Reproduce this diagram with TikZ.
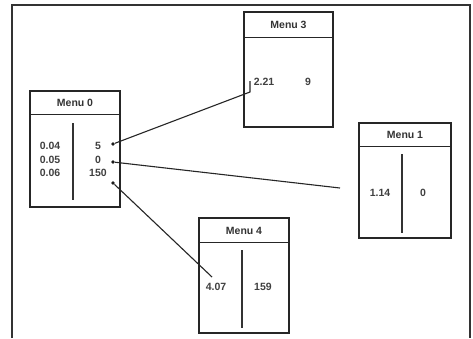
\documentclass[tikz,border=0pt]{standalone}
\usepackage{fontspec}
\setmainfont{Liberation Sans}
\usetikzlibrary{calc}
\begin{document}
\begin{tikzpicture}[x=1pt,y=-1pt,
  menubox/.style={draw=black!85, line width=1.4pt, rectangle, inner sep=0pt},
  sepline/.style={draw=black!85, line width=1.4pt},
  divline/.style={draw=black!80, line width=1.2pt},
  head/.style={font=\fontsize{10.5}{12}\selectfont\bfseries, text=black!80, inner sep=0pt},
  val/.style={font=\fontsize{10.5}{12}\selectfont\bfseries, text=black!75, inner sep=0pt},
  conn/.style={draw=black!85, line width=1.1pt},
  dot/.style={circle, fill=black!90, inner sep=0pt, minimum size=3.8pt}]
\useasboundingbox (0,0) rectangle (473,338);
\fill[white] (0,0) rectangle (473,338);
% outer frame
\draw[black!80, line width=2pt] (12,338) -- (12,5) -- (470,5) -- (470,338);
% Menu 0
\node[menubox, minimum width=90pt, minimum height=116pt] (m0) at (75,149) {};
\draw[sepline] ($(m0.north west)+(0,24)$) -- ($(m0.north east)+(0,24)$);
\node[head] (m0h) at (75,103) {Menu 0};
\draw[divline] (73,123) -- (73,200);
\node[val] (a1) at (50,146) {0.04};
\node[val] (a2) at (50,160) {0.05};
\node[val] (a3) at (50,173) {0.06};
\node[val] (b1) at (98,146) {5};
\node[val] (b2) at (98,160) {0};
\node[val] (b3) at (98,173) {150};
\node[dot] (d1) at (113,144) {};
\node[dot] (d2) at (113,162) {};
\node[dot] (d3) at (113,183) {};
% Menu 3
\node[menubox, minimum width=89pt, minimum height=115pt] (m3) at (288.5,69.5) {};
\draw[sepline] ($(m3.north west)+(0,26)$) -- ($(m3.north east)+(0,26)$);
\node[head] (m3h) at (288.5,25) {Menu 3};
\node[val] (c1) at (264,82) {2.21};
\node[val] (c2) at (308,82) {9};
% Menu 1
\node[menubox, minimum width=92pt, minimum height=115pt] (m1) at (405,180.5) {};
\draw[sepline] ($(m1.north west)+(0,24)$) -- ($(m1.north east)+(0,24)$);
\node[head] (m1h) at (405,135) {Menu 1};
\draw[divline] (402,154) -- (402,233);
\node[val] (e1v) at (380,193) {1.14};
\node[val] (e2v) at (423,193) {0};
% Menu 4
\node[menubox, minimum width=90pt, minimum height=115pt] (m4) at (244,275.5) {};
\draw[sepline] ($(m4.north west)+(0,25)$) -- ($(m4.north east)+(0,25)$);
\node[head] (m4h) at (244,231) {Menu 4};
\draw[divline] (242,250) -- (242,328);
\node[val] (f1) at (216,287) {4.07};
\node[val] (f2) at (263,287) {159};
% connectors
\coordinate (t1) at (250,92);
\coordinate (t1b) at (250,81);
\coordinate (t2) at (340,188);
\coordinate (t3) at (212,277);
\draw[conn] (d1) -- (t1) -- (t1b);
\draw[conn] (d2) -- (t2);
\draw[conn] (d3) -- (t3);
\end{tikzpicture}
\end{document}
